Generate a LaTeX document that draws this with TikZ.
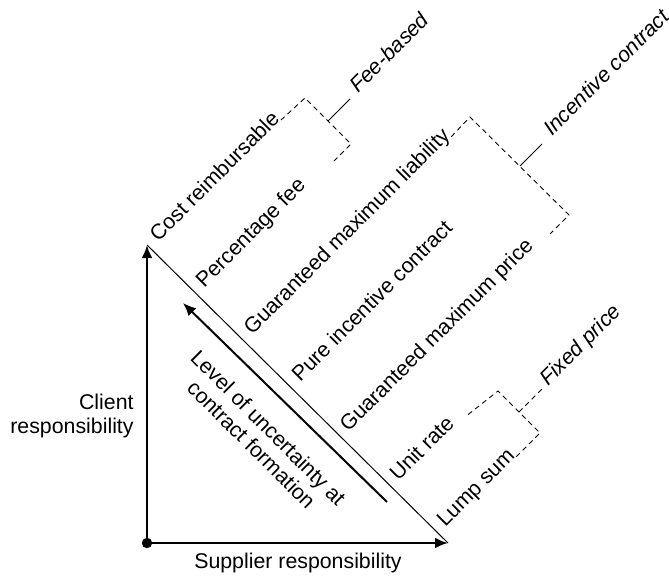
\documentclass[tikz,border=0pt]{standalone}
\usepackage{fontspec}
\setmainfont{Liberation Sans}
\usetikzlibrary{arrows.meta}

\begin{document}
\begin{tikzpicture}[
          x=0.5bp, y=-0.5bp,
          every node/.style={inner sep=0pt, font=\fontsize{10.7}{12}\selectfont},
          axis/.style={line width=1.35bp, -{Latex[length=6.5bp,width=5.5bp]}},
          contract/.style={anchor=base west, rotate=45},
          family/.style={anchor=base west, rotate=45, font=\fontsize{10.7}{12}\selectfont\itshape},
          bracket/.style={line width=0.45bp, dash pattern=on 2.5bp off 2bp},
          tick/.style={line width=0.5bp}
    ]
      \useasboundingbox (0,0) rectangle (669,579);

      % responsibility triangle
      \coordinate (O) at (147,543);
      \coordinate (T) at (147,245);
      \coordinate (R) at (448,543);
      \draw[axis] (O) -- (T);
      \draw[axis] (O) -- (R);
      \draw[line width=0.5bp] (T) -- (R);
      \fill (O) circle (2.6bp);

      \node[anchor=east, align=right] (client) at (134,416) {Client\\responsibility};
      \node[anchor=base] (supplier) at (298,568) {Supplier responsibility};

      % uncertainty arrow
      \coordinate (u0) at (387,502);
      \coordinate (u1) at (183,303);
      \draw[line width=1bp, -{Latex[length=6.5bp,width=5.5bp]}] (u0) -- (u1);
      \node[rotate=-45, align=center] (level) at (260,436) {Level of uncertainty at\\contract formation};

      % contract types
      \node[contract] (cr)  at (158,243) {Cost reimbursable};
      \node[contract] (pf)  at (204,289) {Percentage fee};
      \node[contract] (gml) at (252,336) {Guaranteed maximum liability};
      \node[contract] (pic) at (300,383) {Pure incentive contract};
      \node[contract] (gmp) at (348,433) {Guaranteed maximum price};
      \node[contract] (ur)  at (398,482) {Unit rate};
      \node[contract] (ls)  at (445,528) {Lump sum};

      % fee-based
      \coordinate (fb1) at (305,98);
      \coordinate (fb2) at (351,144);
      \coordinate (fb3) at (331,164);
      \coordinate (fbm) at (328,121);
      \draw[bracket] (cr.base east) -- (fb1) -- (fb2) -- (fb3);
      \node[family] (fee) at (358,94) {Fee-based};
      \draw[tick] (fbm) -- ++(22,-22);

      % incentive
      \coordinate (ic1) at (470,117);
      \coordinate (ic2) at (569,215);
      \coordinate (ic3) at (550,234);
      \coordinate (icm) at (520,166);
      \draw[bracket] (gml.base east) -- (ic1) -- (ic2) -- (ic3);
      \node[family] (inc) at (552,137) {Incentive contract};
      \draw[tick] (icm) -- ++(22,-22);

      % fixed price
      \coordinate (fp1) at (498,391);
      \coordinate (fp2) at (540,433);
      \coordinate (fpm) at (519,412);
      \draw[bracket, shorten <=8bp] (ur.base east) -- (fp1) -- (fp2) -- (ls.base east);
      \node[family] (fix) at (548,387) {Fixed price};
      \draw[bracket] (fpm) -- ++(23,-23);

      \end{tikzpicture}
\end{document}
